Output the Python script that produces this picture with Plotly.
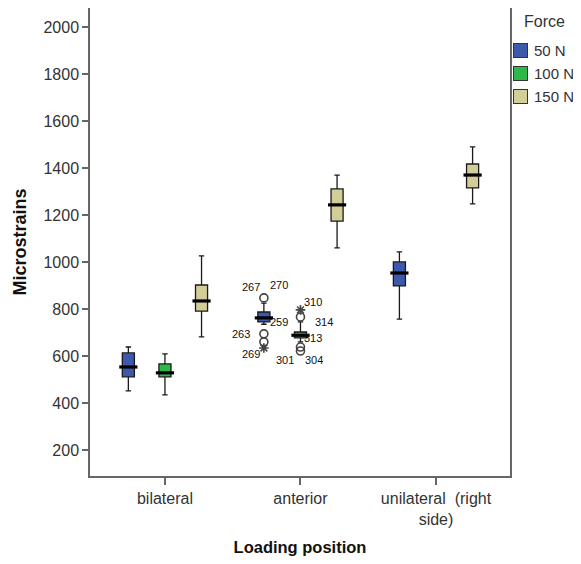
import plotly.graph_objects as go

categories = ["bilateral", "anterior", "unilateral  (right<br>side)"]
forces = ["50 N", "100 N", "150 N"]
colors = ["#3E58AC", "#2EB848", "#D3CE97"]

# per force: values per category (None = no box)
lower = {"50 N": [451, 735, 757], "100 N": [434, 660, None], "150 N": [681, 1060, 1247]}
q1 = {"50 N": [511, 745, 898], "100 N": [511, 677, None], "150 N": [791, 1174, 1315]}
median = {"50 N": [553, 762, 953], "100 N": [528, 688, None], "150 N": [834, 1243, 1370]}
q3 = {"50 N": [613, 787, 1000], "100 N": [566, 702, None], "150 N": [902, 1311, 1417]}
upper = {"50 N": [638, 825, 1043], "100 N": [609, 745, None], "150 N": [1026, 1370, 1490]}

# outliers at the anterior position
out_blue_vals = [847, 694, 660]
out_blue_star = [634]
out_green_vals = [766, 638, 621]
out_green_star = [796]

# outlier labels: (force index, value, text, xshift, yshift)
labels = [
    (0, 847, "267", -13, 11), (0, 847, "270", 15, 13), (0, 745, "259", 15, 0),
    (0, 694, "263", -23, 0), (0, 634, "269", -13, -6),
    (1, 796, "310", 13, 8), (1, 766, "314", 24, -5), (1, 677, "313", 13, 0),
    (1, 638, "301", -15, -13), (1, 621, "304", 14, -9),
]

offsets = [-0.27, 0.0, 0.27]
box_w = 0.089
cat_idx = list(range(len(categories)))

fig = go.Figure()
for fi, f in enumerate(forces):
    xs, lo, a, m, b, hi = [], [], [], [], [], []
    for ci in cat_idx:
        if median[f][ci] is None:
            continue
        xs.append(ci + offsets[fi])
        lo.append(lower[f][ci]); a.append(q1[f][ci]); m.append(median[f][ci])
        b.append(q3[f][ci]); hi.append(upper[f][ci])
    fig.add_trace(go.Box(
        x=xs, lowerfence=lo, q1=a, median=m, q3=b, upperfence=hi,
        name=f, width=box_w, whiskerwidth=0.45, showlegend=False,
        fillcolor=colors[fi], line=dict(color="#1a1a1a", width=1.3),
        boxpoints=False, hoverinfo="skip",
    ))
    fig.add_trace(go.Scatter(
        x=xs, y=m, mode="markers", showlegend=False, hoverinfo="skip",
        marker=dict(symbol="line-ew-open", size=13, color="black", line=dict(color="black", width=3.2)),
    ))

ant = categories.index("anterior")
pt_style = dict(size=8, color="#444", line=dict(color="#444", width=1.6))
fig.add_trace(go.Scatter(x=[ant + offsets[0]] * len(out_blue_vals), y=out_blue_vals, mode="markers",
                         showlegend=False, hoverinfo="skip", marker=dict(symbol="circle-open", **pt_style)))
fig.add_trace(go.Scatter(x=[ant + offsets[0]] * len(out_blue_star), y=out_blue_star, mode="markers",
                         showlegend=False, hoverinfo="skip", marker=dict(symbol="asterisk-open", **pt_style)))
fig.add_trace(go.Scatter(x=[ant + offsets[1]] * len(out_green_vals), y=out_green_vals, mode="markers",
                         showlegend=False, hoverinfo="skip", marker=dict(symbol="circle-open", **pt_style)))
fig.add_trace(go.Scatter(x=[ant + offsets[1]] * len(out_green_star), y=out_green_star, mode="markers",
                         showlegend=False, hoverinfo="skip", marker=dict(symbol="asterisk-open", **pt_style)))

for fi, v, t, dx, dy in labels:
    fig.add_annotation(x=ant + offsets[fi], y=v, text=t, showarrow=False,
                       xshift=dx, yshift=dy, font=dict(size=11, color="#111"))

# legend (title, swatches, labels) as paper-anchored annotations
fig.add_annotation(xref="paper", yref="paper", x=1.083, y=0.972, text="Force", showarrow=False,
                   xanchor="center", yanchor="middle", font=dict(size=16, color="#333"))
legend_y = [0.910, 0.861, 0.810]
for fi, f in enumerate(forces):
    fig.add_annotation(xref="paper", yref="paper", x=1.026, y=legend_y[fi], text="", showarrow=False,
                       xanchor="center", yanchor="middle", width=13, height=13,
                       bgcolor=colors[fi], bordercolor="#333", borderwidth=1, borderpad=0)
    fig.add_annotation(xref="paper", yref="paper", x=1.053, y=legend_y[fi], text=f, showarrow=False,
                       xanchor="left", yanchor="middle", font=dict(size=15, color="#333"))

fig.update_layout(
    width=565, height=548,
    margin=dict(l=82, r=63, t=0, b=80, autoexpand=False),
    paper_bgcolor="white", plot_bgcolor="white",
    font=dict(family="Liberation Sans, Arial, sans-serif", color="#333"),
    showlegend=False,
)
fig.update_xaxes(
    range=[-0.553, 2.546], tickvals=cat_idx, ticktext=categories, tickfont=dict(size=16),
    showline=True, mirror=True, linecolor="#666", linewidth=1.5, automargin=False,
    ticks="outside", ticklen=7, tickcolor="#666", tickwidth=1.5, showgrid=False, zeroline=False,
    title=dict(text="<b>Loading position</b>", font=dict(size=16.5, color="#111"), standoff=17),
)
fig.update_yaxes(
    range=[89, 2081], tickvals=list(range(200, 2001, 200)), tickfont=dict(size=16),
    showline=True, mirror=True, linecolor="#666", linewidth=1.5, automargin=False,
    ticks="outside", ticklen=6, tickcolor="#666", tickwidth=1.5, showgrid=False, zeroline=False,
    title=dict(text="<b>Microstrains</b>", font=dict(size=18, color="#111"), standoff=12),
)

fig.write_html("out.html")
